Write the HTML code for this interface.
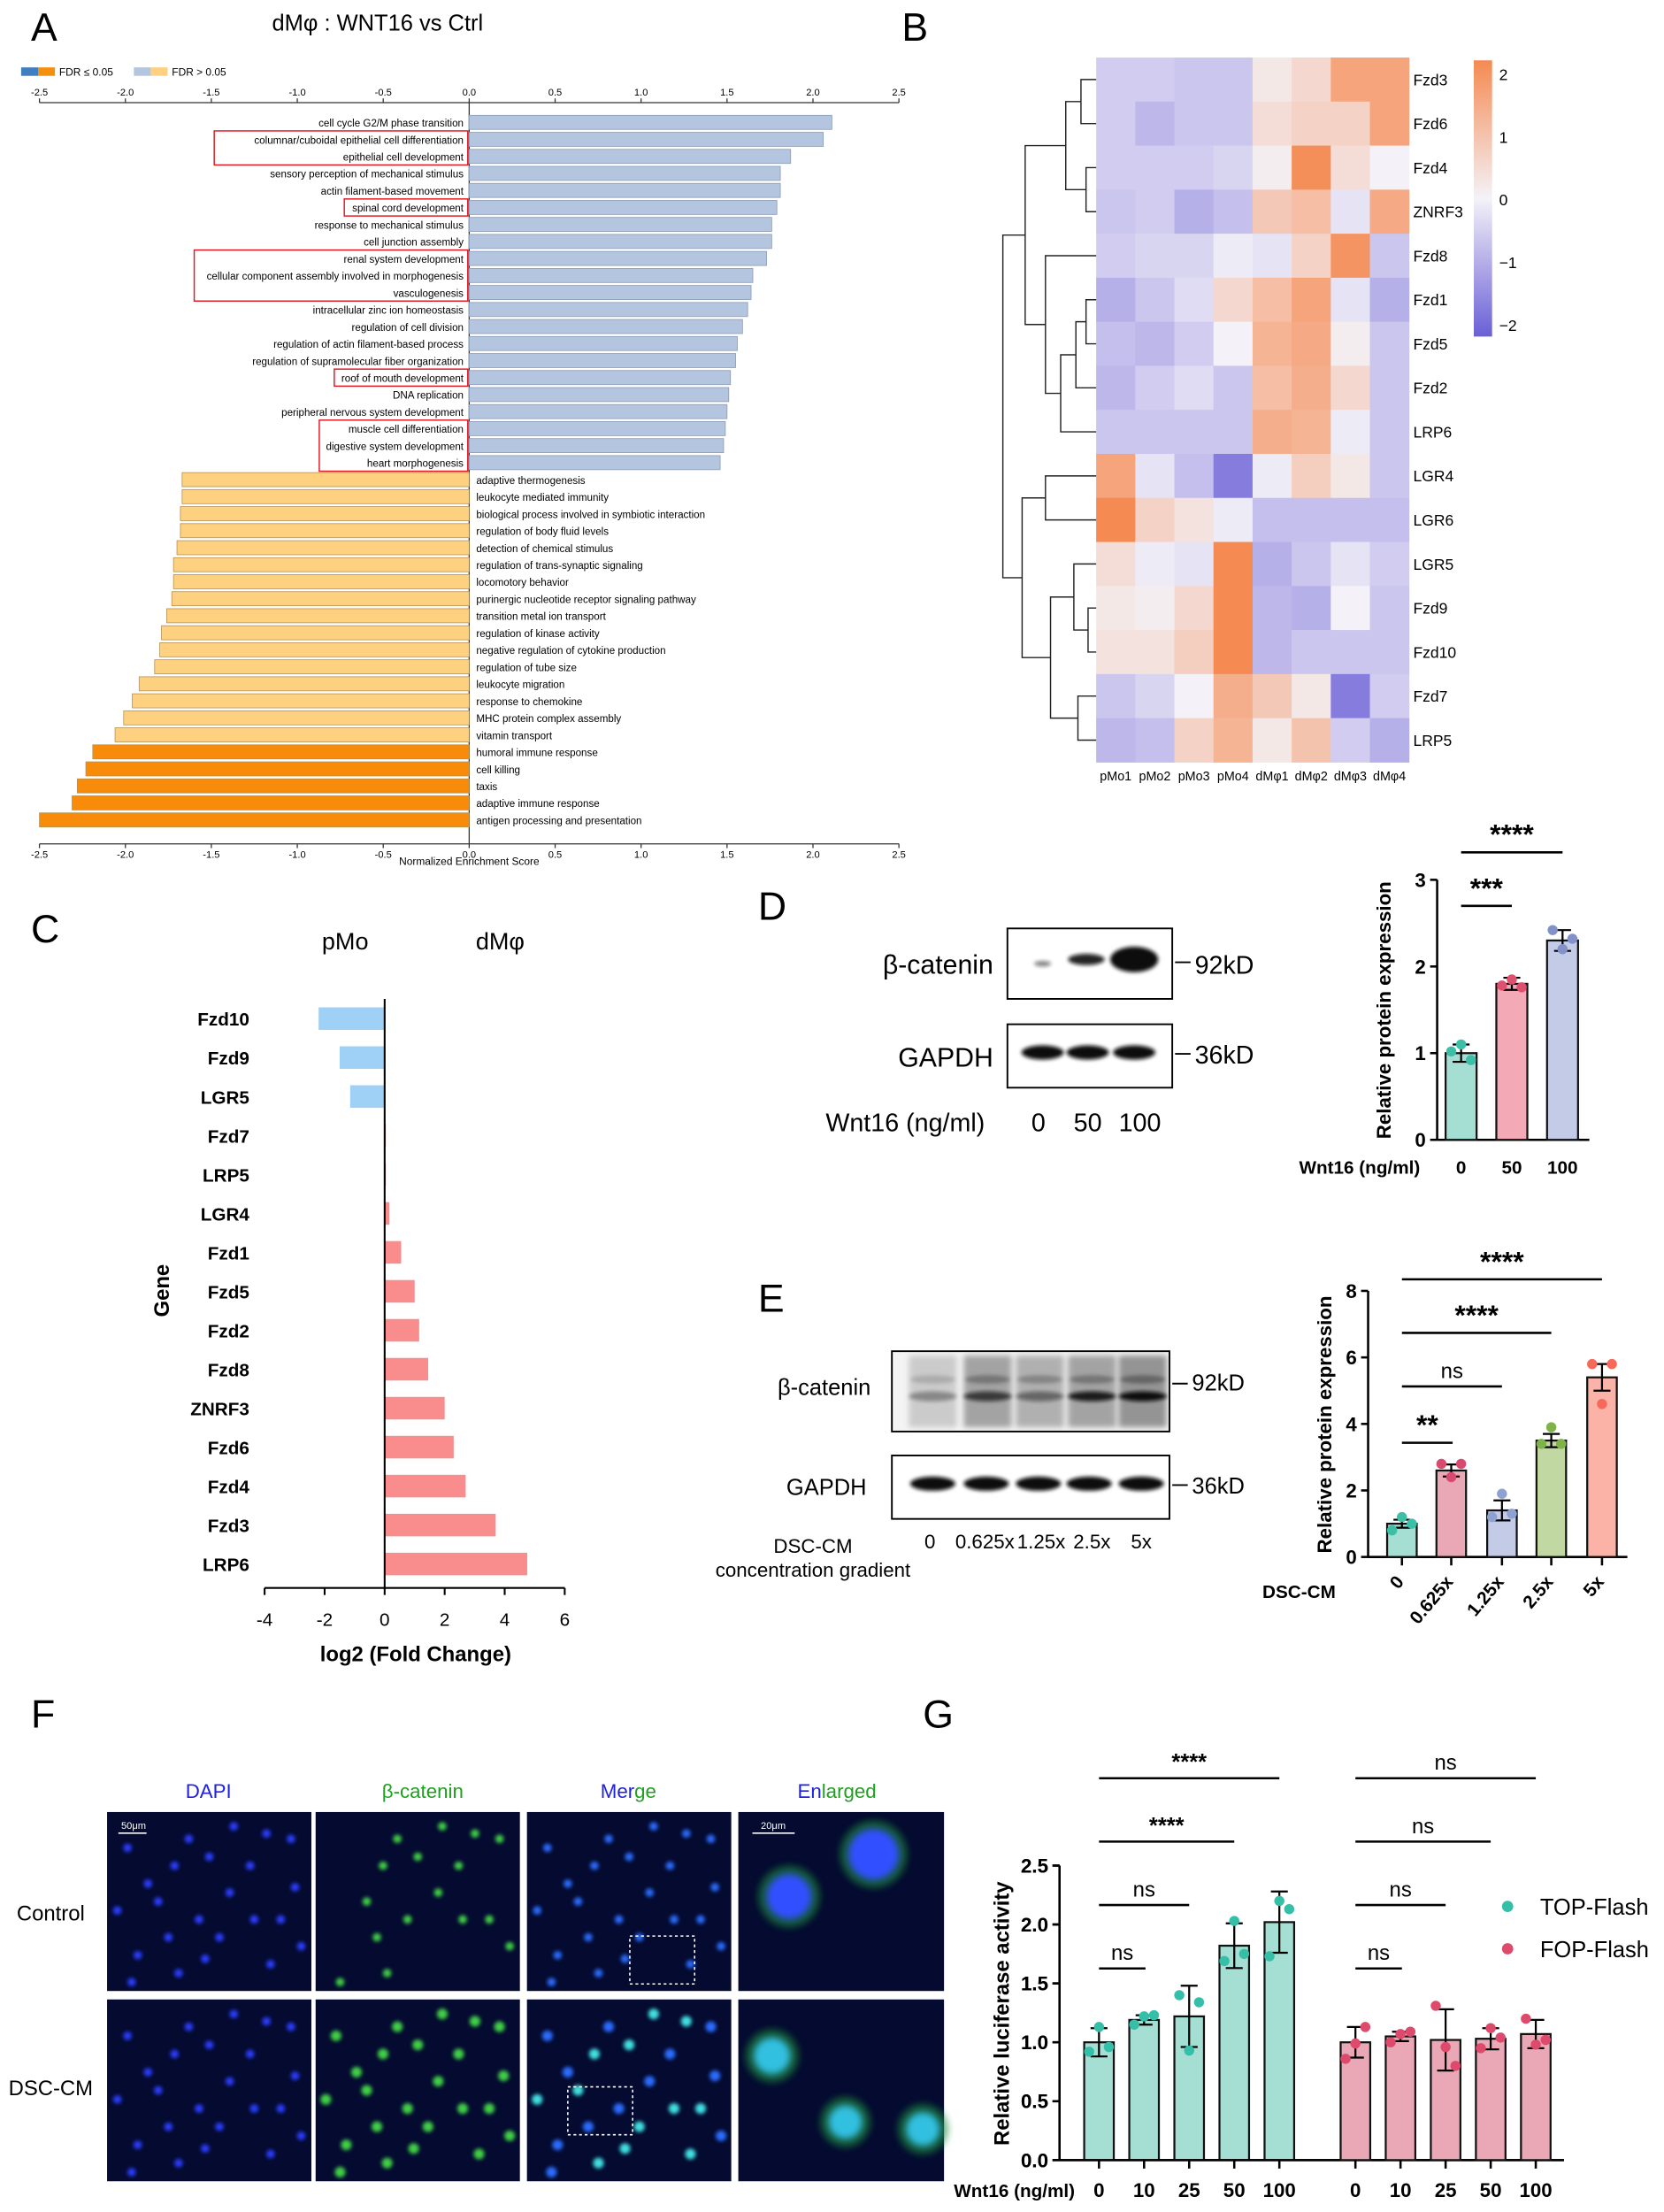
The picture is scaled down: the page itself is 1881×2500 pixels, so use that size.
<!DOCTYPE html>
<html><head><meta charset="utf-8"><style>
html,body{margin:0;padding:0;background:#fff}
svg{display:block;font-family:"Liberation Sans",Arial,sans-serif}
</style></head><body>
<svg id="fig" xmlns="http://www.w3.org/2000/svg" width="1881" height="2500" viewBox="0 0 1181 1568">
<defs>
<filter id="blur1" x="-50%" y="-50%" width="200%" height="200%"><feGaussianBlur stdDeviation="2.5"/></filter>
<filter id="blur2" x="-50%" y="-50%" width="200%" height="200%"><feGaussianBlur stdDeviation="1.3"/></filter>
<filter id="blur3" x="-20%" y="-50%" width="140%" height="200%"><feGaussianBlur stdDeviation="2"/></filter>
<linearGradient id="cbar" x1="0" y1="0" x2="0" y2="1">
<stop offset="0" stop-color="#f58a52"/><stop offset="0.5" stop-color="#f4f2f8"/><stop offset="1" stop-color="#6a5fd6"/></linearGradient>
</defs>
<rect width="1181" height="1568" fill="#fff"/>
</svg>
<script>
// ---------- Panel A data ----------
const goTerms=["cell cycle G2/M phase transition","columnar/cuboidal epithelial cell differentiation","epithelial cell development","sensory perception of mechanical stimulus","actin filament-based movement","spinal cord development","response to mechanical stimulus","cell junction assembly","renal system development","cellular component assembly involved in morphogenesis","vasculogenesis","intracellular zinc ion homeostasis","regulation of cell division","regulation of actin filament-based process","regulation of supramolecular fiber organization","roof of mouth development","DNA replication","peripheral nervous system development","muscle cell differentiation","digestive system development","heart morphogenesis","adaptive thermogenesis","leukocyte mediated immunity","biological process involved in symbiotic interaction","regulation of body fluid levels","detection of chemical stimulus","regulation of trans-synaptic signaling","locomotory behavior","purinergic nucleotide receptor signaling pathway","transition metal ion transport","regulation of kinase activity","negative regulation of cytokine production","regulation of tube size","leukocyte migration","response to chemokine","MHC protein complex assembly","vitamin transport","humoral immune response","cell killing","taxis","adaptive immune response","antigen processing and presentation"];
const goNES=[2.11,2.06,1.87,1.81,1.81,1.79,1.76,1.76,1.73,1.65,1.64,1.62,1.59,1.56,1.55,1.52,1.51,1.50,1.49,1.48,1.46,-1.67,-1.67,-1.68,-1.68,-1.70,-1.72,-1.72,-1.73,-1.76,-1.79,-1.80,-1.83,-1.92,-1.96,-2.01,-2.06,-2.19,-2.23,-2.28,-2.31,-2.50];
const goSig=[0,0,0,0,0,0,0,0,0,0,0,0,0,0,0,0,0,0,0,0,0,0,0,0,0,0,0,0,0,0,0,0,0,0,0,0,0,1,1,1,1,1];
const goBoxes=[[1,2],[5,5],[8,10],[15,15],[18,20]];
const aTicks=[-2.5,-2,-1.5,-1,-0.5,0,0.5,1,1.5,2,2.5];
// ---------- Panel B data ----------
const hmGenes=["Fzd3","Fzd6","Fzd4","ZNRF3","Fzd8","Fzd1","Fzd5","Fzd2","LRP6","LGR4","LGR6","LGR5","Fzd9","Fzd10","Fzd7","LRP5"];
const hmSamples=["pMo1","pMo2","pMo3","pMo4","dMφ1","dMφ2","dMφ3","dMφ4"];
const hmValues=[
[-0.5,-0.5,-0.6,-0.6,0.2,0.5,1.5,1.5],
[-0.5,-0.8,-0.6,-0.6,0.4,0.6,0.6,1.5],
[-0.5,-0.5,-0.5,-0.4,0.1,1.9,0.4,0.0],
[-0.6,-0.5,-0.9,-0.7,0.8,1.0,-0.2,1.4],
[-0.5,-0.4,-0.4,-0.1,-0.2,0.6,1.8,-0.6],
[-0.9,-0.6,-0.3,0.5,1.0,1.5,-0.2,-0.9],
[-0.7,-0.8,-0.5,0.0,1.2,1.4,0.1,-0.6],
[-0.8,-0.5,-0.3,-0.6,1.0,1.3,0.5,-0.6],
[-0.6,-0.6,-0.6,-0.6,1.3,1.2,-0.1,-0.6],
[1.5,-0.2,-0.7,-1.6,-0.1,0.7,0.2,-0.6],
[2.0,0.6,0.3,-0.1,-0.7,-0.7,-0.7,-0.7],
[0.4,-0.1,-0.2,2.0,-0.9,-0.6,-0.2,-0.5],
[0.2,0.1,0.5,2.0,-0.8,-0.9,0.0,-0.6],
[0.3,0.3,0.7,2.0,-0.8,-0.6,-0.6,-0.6],
[-0.6,-0.4,0.0,1.3,0.8,0.2,-1.6,-0.5],
[-0.8,-0.7,0.6,1.2,0.2,0.9,-0.5,-0.9]];
const cbTicks=[2,1,0,-1,-2];
const dendroMerges=[[0,1,0.85],[2,3,0.9],[16,17,0.7],[5,6,0.9],[19,7,0.8],[20,8,0.65],[4,21,0.5],[18,22,0.3],[9,10,0.5],[12,13,0.92],[11,25,0.78],[14,15,0.82],[26,27,0.55],[24,28,0.27],[23,29,0.08]];
// ---------- Panel C data ----------
const fcGenes=["Fzd10","Fzd9","LGR5","Fzd7","LRP5","LGR4","Fzd1","Fzd5","Fzd2","Fzd8","ZNRF3","Fzd6","Fzd4","Fzd3","LRP6"];
const fcValues=[-2.2,-1.5,-1.15,0.04,0.04,0.16,0.55,1.0,1.15,1.45,2.0,2.3,2.7,3.7,4.75];
const cTicks=[-4,-2,0,2,4,6];
// ---------- Panel D data ----------
const dGroups=["0","50","100"];
const dMeans=[1.0,1.8,2.3];
const dErr=[0.1,0.07,0.12];
const dPoints=[[1.02,1.1,0.92],[1.78,1.85,1.76],[2.42,2.2,2.32]];
const dTicks=[0,1,2,3];
// ---------- Panel E data ----------
const eGroups=["0","0.625x","1.25x","2.5x","5x"];
const eMeans=[1.0,2.6,1.4,3.5,5.4];
const eErr=[0.12,0.18,0.3,0.2,0.4];
const ePoints=[[0.8,1.2,1.0],[2.8,2.4,2.8],[1.2,1.9,1.3],[3.4,3.9,3.4],[5.8,4.6,5.8]];
const eTicks=[0,2,4,6,8];
// ---------- Panel G data ----------
const gGroups=["0","10","25","50","100"];
const topMeans=[1.0,1.19,1.22,1.82,2.02];
const topErr=[0.12,0.04,0.26,0.19,0.26];
const topPoints=[[0.92,1.13,0.96],[1.15,1.22,1.23],[1.4,0.93,1.34],[1.69,2.03,1.75],[1.73,2.2,2.13]];
const fopMeans=[1.0,1.05,1.02,1.03,1.07];
const fopErr=[0.13,0.04,0.26,0.09,0.12];
const fopPoints=[[0.86,0.99,1.13],[1.0,1.07,1.09],[1.31,0.96,0.8],[0.95,1.12,1.04],[1.2,0.98,1.02]];
const gTicks=[0,0.5,1.0,1.5,2.0,2.5];

const NS="http://www.w3.org/2000/svg";
const svg=document.getElementById("fig");
function mk(tag,attrs,parent,text){const e=document.createElementNS(NS,tag);for(const k in attrs)e.setAttribute(k,attrs[k]);if(text!==undefined)e.textContent=text;(parent||svg).appendChild(e);return e;}
function grp(name){const g=mk("g",{});


return g;}
function txt(p,x,y,s,size,opt){opt=opt||{};const a={x:x,y:y,"font-size":size,fill:opt.fill||"#000"};if(opt.anchor)a["text-anchor"]=opt.anchor;if(opt.bold)a["font-weight"]="bold";if(opt.tr)a.transform=opt.tr;const t=mk("text",a,p,s);


return t;}
function line(p,x1,y1,x2,y2,w,c){const l=mk("line",{x1:x1,y1:y1,x2:x2,y2:y2,stroke:c||"#000","stroke-width":w||1},p);return l;}

// panel letters
const letters=grp("panel-letters");
[["A",22,28],["B",640,28],["C",22,668],["D",538,652],["E",538,930],["F",22,1225],["G",655,1225]].forEach(l=>{txt(letters,l[1],l[2],l[0],28,{name:'panel-letter-'+l[0].toLowerCase()});});

// ---------- Panel A ----------
(function(){
const g=grp("panel-a-gsea-bar-chart");
const x0=333,sc=122,yTop=86,step=(581-86)/41,bh=10;
const X=v=>x0+v*sc;
txt(g,268,21,"dMφ : WNT16 vs Ctrl",16,{anchor:"middle",name:'panel-a-title'});
const lg=grp("panel-a-legend");
[["#3f7fbf",15],["#f5900f",27],["#b3c5df",95],["#fdd17f",107]].forEach(c=>{const r=mk("rect",{x:c[1],y:47,width:12,height:6,fill:c[0]},lg);

});
txt(lg,42,53,"FDR ≤ 0.05",7.5,{name:'legend-entry-significant'});
txt(lg,122,53,"FDR > 0.05",7.5,{name:'legend-entry-nonsignificant'});
const axT=72,axB=598;
line(g,X(-2.5),axT,X(2.5),axT,0.8,"#333");
aTicks.forEach(t=>{line(g,X(t),axT,X(t),axT-3,0.8,"#333");txt(g,X(t),axT-5,t.toFixed(1),7,{anchor:"middle",name:'x-tick-label'});});
line(g,X(-2.5),axB,X(2.5),axB,0.8,"#333");
aTicks.forEach(t=>{line(g,X(t),axB,X(t),axB+3,0.8,"#333");txt(g,X(t),axB+10,t.toFixed(1),7,{anchor:"middle",name:'x-tick-label'});});
txt(g,X(0),613,"Normalized Enrichment Score",7.5,{anchor:"middle",name:'x-axis-title'});
line(g,x0,axT,x0,axB,0.8,"#333");
goTerms.forEach((term,i)=>{const v=goNES[i];const yc=yTop+i*step;
const col=v>0?(goSig[i]?"#3f7fbf":"#b3c5df"):(goSig[i]?"#f88c0a":"#fdd17f");
const r=mk("rect",{x:Math.min(X(v),x0),y:yc-bh/2,width:Math.abs(X(v)-x0),height:bh,fill:col,stroke:v>0?"#8a9ab5":"#b59050","stroke-width":0.5},g);


if(v>0)txt(g,x0-4,yc+3,term,7.3,{anchor:"end",name:'term-label'});else txt(g,x0+5,yc+3,term,7.3,{name:'term-label'});
});
goBoxes.forEach(b=>{let w=0;for(let i=b[0];i<=b[1];i++)w=Math.max(w,goTerms[i].length*3.55);
const r=mk("rect",{x:x0-4-w-3,y:yTop+b[0]*step-6,width:w+6,height:(b[1]-b[0]+1)*step,fill:"none",stroke:"#e0141e","stroke-width":0.9},g);

});
})();

// ---------- Panel B ----------
(function(){
const g=grp("panel-b-heatmap");
const hx=778,hy=40,cw=(1000-778)/8,ch=500/16;
function col(v){const t=Math.max(-2,Math.min(2,v))/2;const w=[244,242,248];const o=[245,138,82];const b=[106,95,214];const c=t>=0?o:b;const a=Math.abs(t);return "rgb("+w.map((x,k)=>Math.round(x+(c[k]-x)*a)).join(",")+")";}
hmValues.forEach((row,i)=>row.forEach((v,j)=>{const r=mk("rect",{x:hx+j*cw,y:hy+i*ch,width:cw+0.3,height:ch+0.3,fill:col(v)},g);

}));
hmGenes.forEach((n,i)=>txt(g,1003,hy+i*ch+ch/2+4,n,11,{name:'row-label'}));
hmSamples.forEach((n,j)=>txt(g,hx+j*cw+cw/2,553,n,9,{anchor:"middle",name:'column-label'}));
const cb=mk("rect",{x:1046,y:42,width:13,height:196,fill:"url(#cbar)"},g);


cbTicks.forEach(t=>{const y=141-t*44.5;txt(g,1064,y+4,t<0?"−"+(-t):""+t,11,{name:'colorbar-tick'});});
const dx0=706,dx1=778;const pos={};const hgt={};
hmGenes.forEach((n,i)=>{pos[i]=hy+i*ch+ch/2;hgt[i]=1;});
const D=h=>dx0+h*(dx1-dx0);
dendroMerges.forEach((m,k)=>{const id=16+k;const a=m[0],b=m[1],h=m[2];
const p=mk("path",{d:`M${D(hgt[a])},${pos[a]}H${D(h)}V${pos[b]}H${D(hgt[b])}`,fill:"none",stroke:"#222","stroke-width":0.9},g);


pos[id]=(pos[a]+pos[b])/2;hgt[id]=h;});
})();

// ---------- Panel C ----------
(function(){
const g=grp("panel-c-fold-change-chart");
const x0=273,sc=21.3,yT=722,step=(1109-722)/14,bh=16,axY=1126;
const X=v=>x0+v*sc;
txt(g,245,673,"pMo",17,{anchor:"middle",name:'group-label-pmo'});
txt(g,355,673,"dMφ",17,{anchor:"middle",name:'group-label-dmphi'});
fcGenes.forEach((n,i)=>{const v=fcValues[i],yc=yT+i*step;
const r=mk("rect",{x:Math.min(X(v),x0),y:yc-bh/2,width:Math.abs(X(v)-x0),height:bh,fill:v<0?"#9fd0f5":"#f98c8c"},g);


txt(g,177,yc+5,n,13,{anchor:"end",bold:1,name:'gene-label'});});
line(g,x0,708,x0,axY,1.3);
line(g,X(-4),axY,X(6),axY,1.3);
cTicks.forEach(t=>{line(g,X(t),axY,X(t),axY+5,1.3);txt(g,X(t),1153,""+t,13,{anchor:"middle",name:'x-tick-label'});});
txt(g,295,1178,"log2 (Fold Change)",15,{anchor:"middle",bold:1,name:'x-axis-title'});
txt(g,120,915,"Gene",15,{anchor:"middle",bold:1,tr:"rotate(-90 120 915)",name:'y-axis-title'});
})();

// ---------- blots ----------
function blotBox(g,x,y,w,h,bands,name){const r=mk("rect",{x:x,y:y,width:w,height:h,fill:"#fff",stroke:"#000","stroke-width":1.2},g);


bands.forEach(b=>{const e=mk("ellipse",{cx:b[0],cy:b[1],rx:b[2],ry:b[3],fill:"#111",opacity:b[4]||1,filter:"url(#blur2)"},g);

});}
(function(){
const g=grp("panel-d-western-blot");
blotBox(g,715,658,117,50,[[740,683,6,2,0.5],[771,680,13,4,0.9],[805,680,17,9]],"beta-catenin-blot");
blotBox(g,715,726,117,45,[[740,746,15,5],[772,746,15,5],[805,746,15,5]],"gapdh-blot");
txt(g,705,690,"β-catenin",19,{anchor:"end",name:'beta-catenin-label'});
txt(g,705,756,"GAPDH",19,{anchor:"end",name:'gapdh-label'});
line(g,834,682,845,682,1.2);line(g,834,747,845,747,1.2);
txt(g,848,690,"92kD",18,{name:'mw-92kd'});txt(g,848,754,"36kD",18,{name:'mw-36kd'});
txt(g,586,802,"Wnt16 (ng/ml)",18,{name:'wnt16-label'});
["0","50","100"].forEach((s,i)=>txt(g,[737,772,809][i],802,s,18,{anchor:"middle",name:'dose-label'}));
})();
(function(){
const g=grp("panel-e-western-blot");
const bx=mk("rect",{x:633,y:958,width:197,height:57,fill:"#f4f4f4",stroke:"#000","stroke-width":1.2},g);


const lanes=[[662,0.25,0.35],[701,0.5,0.7],[738,0.42,0.45],[775,0.5,0.9],[811,0.6,1]];
lanes.forEach(l=>{const s=mk("rect",{x:l[0]-17,y:961,width:34,height:51,fill:"#555",opacity:l[1],filter:"url(#blur3)"},g);


const b=mk("ellipse",{cx:l[0],cy:990,rx:17,ry:3.5,fill:"#111",opacity:l[2],filter:"url(#blur2)"},g);


const b2=mk("ellipse",{cx:l[0],cy:978,rx:16,ry:3,fill:"#333",opacity:l[1]*0.8,filter:"url(#blur2)"},g);

});
blotBox(g,633,1032,197,45,[[662,1052,16,5],[700,1052,16,5],[737,1052,16,5],[773,1052,16,5],[810,1052,16,5]],"gapdh-blot");
txt(g,618,989,"β-catenin",16,{anchor:"end",name:'beta-catenin-label'});
txt(g,615,1060,"GAPDH",16,{anchor:"end",name:'gapdh-label'});
line(g,832,981,843,981,1.2);line(g,832,1053,843,1053,1.2);
txt(g,846,986,"92kD",16,{name:'mw-92kd'});txt(g,846,1059,"36kD",16,{name:'mw-36kd'});
txt(g,577,1101,"DSC-CM",14,{anchor:"middle",name:'dsc-cm-label'});
txt(g,577,1118,"concentration gradient",14,{anchor:"middle",name:'concentration-label'});
["0","0.625x","1.25x","2.5x","5x"].forEach((s,i)=>txt(g,[660,699,739,775,810][i],1098,s,14,{anchor:"middle",name:'dose-label'}));
})();

function barChart(g,o){
const Y=v=>o.y0-v*o.sc;
line(g,o.ax,Y(o.ticks[o.ticks.length-1]),o.ax,o.y0,1.6);
line(g,o.ax,o.y0,o.xEnd,o.y0,1.6);
o.ticks.forEach(t=>{line(g,o.ax-5,Y(t),o.ax,Y(t),1.6);txt(g,o.ax-8,Y(t)+5,o.fmt?o.fmt(t):""+t,o.fs,{anchor:"end",bold:1,name:'y-tick-label'});});
o.means.forEach((m,i)=>{const cx=o.xs[i];const c=o.colors[i];
const r=mk("rect",{x:cx-o.bw/2,y:Y(m),width:o.bw,height:o.y0-Y(m),fill:c,stroke:"#111","stroke-width":1.4},g);


line(g,cx,Y(m-o.err[i]),cx,Y(m+o.err[i]),1.4);line(g,cx-6,Y(m+o.err[i]),cx+6,Y(m+o.err[i]),1.4);line(g,cx-6,Y(m-o.err[i]),cx+6,Y(m-o.err[i]),1.4);
o.points[i].forEach((p,k)=>{const c2=mk("circle",{cx:cx+(k-1)*7,cy:Y(p),r:3.6,fill:o.dot[i]},g);

});
if(o.tickX)line(g,cx,o.y0,cx,o.y0+6,1.6);
});}
function sig(g,x1,x2,y,label,fs){line(g,x1,y,x2,y,1.6);txt(g,(x1+x2)/2,y-6,label,fs,{anchor:"middle",bold:label.indexOf("*")>=0,name:'significance-label'});}

(function(){
const g=grp("panel-d-bar-chart");
const xs=[1037,1073,1109];
barChart(g,{ax:1020,y0:808,sc:61.5,xEnd:1128,ticks:dTicks,means:dMeans,err:dErr,points:dPoints,xs:xs,bw:22,groups:dGroups,
colors:["#a5ded2","#f3a9b6","#c4cbe6"],dot:["#3bbfa6","#e0506e","#8391c9"],fs:14});
xs.forEach((x,i)=>txt(g,x,832,dGroups[i],13,{anchor:"middle",bold:1,name:'x-tick-label'}));
txt(g,922,832,"Wnt16 (ng/ml)",13,{bold:1,name:'x-axis-title'});
txt(g,987,716,"Relative protein expression",14,{anchor:"middle",bold:1,tr:"rotate(-90 987 716)",name:'y-axis-title'});
sig(g,1037,1073,642,"***",20);sig(g,1037,1109,604,"****",20);
})();
(function(){
const g=grp("panel-e-bar-chart");
const xs=[995,1030,1066,1101,1137];
barChart(g,{ax:971,y0:1104,sc:23.6,xEnd:1155,ticks:eTicks,means:eMeans,err:eErr,points:ePoints,xs:xs,bw:21,groups:eGroups,
colors:["#a5ded2","#eaa8b6","#c4cbe6","#c2d8a2","#fbb3a8"],dot:["#3bbfa6","#d84a70","#8ea2d2","#7fb24a","#f76a5a"],fs:14,tickX:1});
xs.forEach((x,i)=>txt(g,x+2,1122,eGroups[i],13,{anchor:"end",bold:1,tr:`rotate(-50 ${x+2} 1122)`,name:'x-tick-label'}));
txt(g,896,1133,"DSC-CM",13,{bold:1,name:'x-axis-title'});
txt(g,945,1010,"Relative protein expression",14,{anchor:"middle",bold:1,tr:"rotate(-90 945 1010)",name:'y-axis-title'});
sig(g,995,1031,1023,"**",20);sig(g,995,1066,983,"ns",15);sig(g,995,1101,945,"****",20);sig(g,995,1137,907,"****",20);
})();

// ---------- Panel F ----------
(function(){
const g=grp("panel-f-immunofluorescence");
const cols=[76,224,374,524],w=[145,145,145,146],rows=[1285,1418],h=[127,129];
txt(g,148,1275,"DAPI",14,{anchor:"middle",fill:"#2020e0",name:'dapi-header'});
txt(g,300,1275,"β-catenin",14,{anchor:"middle",fill:"#20a020",name:'beta-catenin-header'});
const m=mk("text",{x:446,y:1275,"font-size":14,"text-anchor":"middle"},g);


mk("tspan",{fill:"#2020e0"},m,"Mer");mk("tspan",{fill:"#20a020"},m,"ge");
const en=mk("text",{x:594,y:1275,"font-size":14,"text-anchor":"middle"},g);


mk("tspan",{fill:"#2020e0"},en,"En");mk("tspan",{fill:"#20a020"},en,"larged");
txt(g,36,1362,"Control",15,{anchor:"middle",name:'control-row-label'});
txt(g,36,1486,"DSC-CM",15,{anchor:"middle",name:'dsc-cm-row-label'});
const cells=[[0.1,0.2],[0.25,0.5],[0.4,0.15],[0.55,0.7],[0.7,0.3],[0.85,0.6],[0.15,0.8],[0.35,0.9],[0.6,0.45],[0.8,0.85],[0.9,0.15],[0.5,0.25],[0.2,0.4],[0.72,0.6],[0.45,0.6],[0.05,0.55],[0.3,0.7],[0.62,0.08],[0.92,0.42],[0.78,0.12],[0.12,0.95],[0.48,0.82],[0.95,0.75],[0.33,0.3]];
rows.forEach((ry,ri)=>cols.forEach((cx,ci)=>{
const r=mk("rect",{x:cx,y:ry,width:w[ci],height:h[ri],fill:"#040a30"},g);


if(ci<3){cells.forEach((p,k)=>{const px=cx+p[0]*w[ci],py=ry+p[1]*h[ri];
const fill=ci===0?"#2a3cff":ci===1?"#3fcf45":(ri===1&&k%2?"#40e0e0":"#2a6cff");
if(ci===1&&ri===0&&k%3===0)return;
mk("circle",{cx:px,cy:py,r:ri===1&&ci>0?3.8:3,fill:fill,filter:"url(#blur2)"},g);});}
else{const pts=ri===0?[[560,1345,16],[620,1315,18]]:[[548,1458,13],[600,1505,12],[655,1510,12]];
pts.forEach(p=>{mk("circle",{cx:p[0],cy:p[1],r:p[2]+6,fill:"#1a8a3a",opacity:0.6,filter:"url(#blur1)"},g);mk("circle",{cx:p[0],cy:p[1],r:p[2],fill:ri?"#30c0e0":"#3050ff",filter:"url(#blur1)"},g);});}
}));
const b1=mk("rect",{x:447,y:1373,width:46,height:34,fill:"none",stroke:"#fff","stroke-width":1,"stroke-dasharray":"2,2"},g);

const b2=mk("rect",{x:403,y:1480,width:46,height:34,fill:"none",stroke:"#fff","stroke-width":1,"stroke-dasharray":"2,2"},g);

line(g,84,1300,104,1300,1,"#fff");txt(g,86,1297,"50μm",7,{fill:"#fff",name:'scale-bar-label'});
line(g,534,1300,564,1300,1,"#fff");txt(g,540,1297,"20μm",7,{fill:"#fff",name:'scale-bar-label'});
})();

// ---------- Panel G ----------
(function(){
const g=grp("panel-g-luciferase-chart");
const txs=[780,812,844,876,908],fxs=[962,994,1026,1058,1090];
const opt={ax:752,y0:1532,sc:83.6,xEnd:1110,ticks:gTicks,fs:14,bw:21,tickX:1,fmt:t=>t.toFixed(1)};
barChart(g,Object.assign({},opt,{means:topMeans,err:topErr,points:topPoints,xs:txs,groups:gGroups,prefix:'top-',colors:Array(5).fill("#a5ded2"),dot:Array(5).fill("#35bfa9")}));
barChart(g,Object.assign({},opt,{means:fopMeans,err:fopErr,points:fopPoints,xs:fxs,groups:gGroups,prefix:'fop-',colors:Array(5).fill("#eaa8b6"),dot:Array(5).fill("#dd4a6c")}));
txs.concat(fxs).forEach((x,i)=>txt(g,x,1558,gGroups[i%5],14,{anchor:"middle",bold:1,name:'x-tick-label'}));
txt(g,677,1558,"Wnt16 (ng/ml)",13,{bold:1,name:'x-axis-title'});
txt(g,716,1428,"Relative luciferase activity",15,{anchor:"middle",bold:1,tr:"rotate(-90 716 1428)",name:'y-axis-title'});
sig(g,780,813,1396,"ns",15);sig(g,780,844,1351,"ns",15);sig(g,780,876,1306,"****",16);sig(g,780,908,1261,"****",16);
sig(g,962,995,1396,"ns",15);sig(g,962,1026,1351,"ns",15);sig(g,962,1058,1306,"ns",15);sig(g,962,1090,1261,"ns",15);
const l1=mk("circle",{cx:1070,cy:1352,r:4,fill:"#35bfa9"},g);
const l2=mk("circle",{cx:1070,cy:1382,r:4,fill:"#dd4a6c"},g);
txt(g,1093,1358,"TOP-Flash",16,{name:'legend-entry-top-flash'});
txt(g,1093,1388,"FOP-Flash",16,{name:'legend-entry-fop-flash'});
})();
</script>
</body></html>
